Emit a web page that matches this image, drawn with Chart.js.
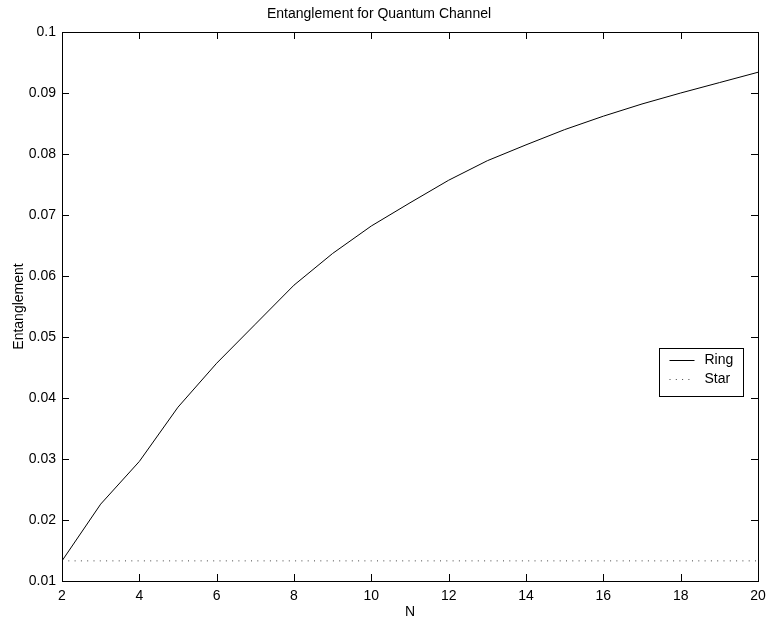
<!DOCTYPE html>
<html>
<head>
<meta charset="utf-8">
<title>Entanglement for Quantum Channel</title>
<script src="https://cdn.jsdelivr.net/npm/chart.js@4.4.1/dist/chart.umd.min.js"></script>
<style>
    body { margin: 0; background: #fff; }
    canvas { display: block; }
</style>
</head>
<body>
<canvas id="grafico" width="768" height="621"></canvas>
<script>
// dados
const valoresN = [2, 3, 4, 5, 6, 7, 8, 9, 10, 11, 12, 13, 14, 15, 16, 17, 18, 19, 20]
const ring = [0.0133, 0.0226, 0.0296, 0.0385, 0.0457, 0.0521, 0.0585, 0.0637, 0.0682, 0.0720,
    0.0757, 0.0789, 0.0815, 0.0840, 0.0862, 0.0882, 0.0900, 0.0917, 0.0934]
const star = [0.0133, 0.0133, 0.0133, 0.0133, 0.0133, 0.0133, 0.0133, 0.0133, 0.0133, 0.0133,
    0.0133, 0.0133, 0.0133, 0.0133, 0.0133, 0.0133, 0.0133, 0.0133, 0.0133]
const ticksX = [2, 4, 6, 8, 10, 12, 14, 16, 18, 20]
const ticksY = [0.01, 0.02, 0.03, 0.04, 0.05, 0.06, 0.07, 0.08, 0.09, 0.1]

const fonte = '"Liberation Sans", Arial, Helvetica, sans-serif'

function pontos(ys) {
    return valoresN.map((n, i) => ({ x: n, y: ys[i] }))
}

// caixa + ticks para dentro (estilo matlab)
const caixaPlugin = {
    id: 'caixa',
    afterDatasetsDraw(chart) {
        const ctx = chart.ctx
        const a = chart.chartArea
        const sx = chart.scales.x
        const sy = chart.scales.y
        const len = 7
        ctx.save()
        ctx.strokeStyle = '#000'
        ctx.lineWidth = 1
        ctx.beginPath()
        ticksX.forEach(v => {
            const px = Math.round(sx.getPixelForValue(v)) + 0.5
            ctx.moveTo(px, a.bottom); ctx.lineTo(px, a.bottom - len)
            ctx.moveTo(px, a.top); ctx.lineTo(px, a.top + len)
        })
        ticksY.forEach(v => {
            const py = Math.round(sy.getPixelForValue(v)) + 0.5
            ctx.moveTo(a.left, py); ctx.lineTo(a.left + len, py)
            ctx.moveTo(a.right, py); ctx.lineTo(a.right - len, py)
        })
        ctx.stroke()
        ctx.strokeRect(Math.round(a.left) + 0.5, Math.round(a.top) + 0.5,
            Math.round(a.right - a.left), Math.round(a.bottom - a.top))
        ctx.restore()
    }
}

// legenda dentro do grafico
const legendaPlugin = {
    id: 'legenda',
    afterDraw(chart) {
        const ctx = chart.ctx
        const a = chart.chartArea
        const w = 84, h = 48
        const x = Math.round(a.right - 15 - w) + 0.5
        const y = Math.round((a.top + a.bottom) / 2 + 65 - h / 2) + 0.5
        ctx.save()
        ctx.fillStyle = '#fff'
        ctx.fillRect(x, y, w, h)
        ctx.strokeStyle = '#000'
        ctx.lineWidth = 1
        ctx.strokeRect(x, y, w, h)
        chart.data.datasets.forEach((ds, i) => {
            const ly = Math.round(y + 11.5 + i * 18.5) + 0.5
            ctx.strokeStyle = ds.borderColor
            ctx.setLineDash(ds.borderDash || [])
            ctx.beginPath()
            ctx.moveTo(x + 10, ly)
            ctx.lineTo(x + 35, ly)
            ctx.stroke()
            ctx.setLineDash([])
            ctx.fillStyle = '#000'
            ctx.font = '14px ' + fonte
            ctx.textBaseline = 'middle'
            ctx.textAlign = 'left'
            ctx.fillText(ds.label, x + 45, ly)
        })
        ctx.restore()
    }
}

const grafico = new Chart(document.getElementById('grafico').getContext('2d'), {
    type: 'line',
    data: {
        datasets: [
            {
                label: 'Ring',
                data: pontos(ring),
                borderColor: '#000',
                borderWidth: 1,
                pointRadius: 0,
                tension: 0
            },
            {
                label: 'Star',
                data: pontos(star),
                borderColor: '#444',
                borderWidth: 1,
                borderDash: [1, 5.3],
                pointRadius: 0,
                tension: 0
            }
        ]
    },
    options: {
        responsive: false,
        animation: false,
        layout: { padding: { left: 0, right: 10, top: 0, bottom: 0 } },
        plugins: {
            legend: { display: false },
            tooltip: { enabled: false },
            title: {
                display: true,
                text: 'Entanglement for Quantum Channel',
                color: '#000',
                font: { family: fonte, size: 14, weight: 'normal' },
                padding: { top: 6, bottom: 9.2 }
            }
        },
        scales: {
            x: {
                type: 'linear',
                min: 2,
                max: 20,
                afterFit: s => { s.height = 40; s.paddingLeft = 0; s.paddingRight = 0 },
                afterBuildTicks: s => { s.ticks = ticksX.map(v => ({ value: v })) },
                grid: { display: false, drawTicks: false },
                border: { display: false },
                ticks: {
                    color: '#000',
                    padding: 7,
                    maxRotation: 0,
                    font: { family: fonte, size: 14 },
                    callback: v => String(v)
                },
                title: {
                    display: true,
                    text: 'N',
                    color: '#000',
                    padding: 0,
                    font: { family: fonte, size: 14 }
                }
            },
            y: {
                type: 'linear',
                min: 0.01,
                max: 0.1,
                afterFit: s => { s.width = 62; s.paddingTop = 0; s.paddingBottom = 0 },
                afterBuildTicks: s => { s.ticks = ticksY.map(v => ({ value: v })) },
                grid: { display: false, drawTicks: false },
                border: { display: false },
                ticks: {
                    color: '#000',
                    padding: 6,
                    font: { family: fonte, size: 14 },
                    callback: v => String(+v.toFixed(4))
                },
                title: {
                    display: true,
                    text: 'Entanglement',
                    color: '#000',
                    padding: { top: 11, bottom: 0 },
                    font: { family: fonte, size: 14 }
                }
            }
        }
    },
    plugins: [caixaPlugin, legendaPlugin]
})
</script>
</body>
</html>
